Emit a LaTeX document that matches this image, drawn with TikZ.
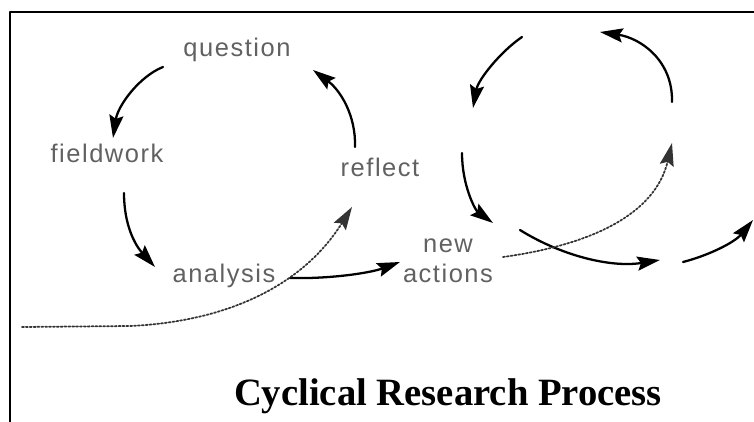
\documentclass[tikz,border=0pt]{standalone}
\usepackage{fontspec}
\usetikzlibrary{arrows.meta}
\newfontfamily\lblfont[LetterSpace=6]{Liberation Sans}
\newfontfamily\ttlfont{Liberation Serif}

\begin{document}
\begin{tikzpicture}[x=0.02cm, y=-0.02cm, line cap=round, line join=round,
    arr/.style={-{Stealth[length=13pt, width=8pt, inset=2pt]}, line width=1.3pt},
    dots/.style={arr, line width=1pt, black!80, dash pattern=on 1.1pt off 1.1pt},
    lbl/.style={anchor=base, inner sep=0pt, text=black!62,
                font=\lblfont\fontsize{14.5pt}{17.6pt}\selectfont},
    ttl/.style={anchor=base, inner sep=0pt,
                font=\ttlfont\bfseries\fontsize{22pt}{26pt}\selectfont}]
  \useasboundingbox (0,0) rectangle (754,422);

  % Frame (left and top edges only)
  \draw[line width=1.15pt, line cap=butt] (10,422) -- (10,12) -- (754,12);

  % Labels of the first cycle
  \node[lbl] (question)  at (237,57)  {question};
  \node[lbl] (fieldwork) at (107,163) {fieldwork};
  \node[lbl] (reflect)   at (380,177) {reflect};
  \node[lbl] (analysis)  at (224,283) {analysis};
  \node[lbl, align=center] (newact) at (448,283) {new\\actions};

  % Arrow ends
  \coordinate (qf1) at (163,67);   \coordinate (qf2) at (113,138);
  \coordinate (fa1) at (124,193);  \coordinate (fa2) at (155,267);
  \coordinate (rq1) at (355,147);  \coordinate (rq2) at (313,70);
  \coordinate (an1) at (290,278);  \coordinate (an2) at (400,262);
  \coordinate (sp0) at (22,327);   \coordinate (sp1) at (130,326);
  \coordinate (sp2) at (352,207);

  % First cycle
  \draw[arr] (qf1) .. controls (140,76) and (118,105) .. (qf2);
  \draw[arr] (fa1) .. controls (124,225) and (135,245) .. (fa2);
  \draw[arr] (rq1) .. controls (356,115) and (340,90) .. (rq2);
  \draw[arr] (an1) .. controls (330,279) and (370,273) .. (an2);

  % Dotted spiral into reflect
  \draw[dots] (sp0) -- (sp1) .. controls (220,322) and (300,290) .. (sp2);

  % Second cycle (no labels)
  \coordinate (c1) at (522,37);   \coordinate (c2) at (473,108);
  \coordinate (c3) at (672,102);  \coordinate (c4) at (600,32);
  \coordinate (c5) at (462,153);  \coordinate (c6) at (493,223);
  \coordinate (c7) at (520,230);  \coordinate (c8) at (660,260);
  \coordinate (c9) at (683,262);  \coordinate (c10) at (753,220);
  \coordinate (d1) at (503,257);  \coordinate (d2) at (672,143);

  \draw[arr] (c1) .. controls (500,52) and (478,80) .. (c2);
  \draw[arr] (c3) .. controls (673,60) and (640,38) .. (c4);
  \draw[arr] (c5) .. controls (462,185) and (475,210) .. (c6);
  \draw[arr] (c7) .. controls (560,255) and (610,268) .. (c8);
  \draw[arr] (c9) .. controls (710,255) and (735,242) .. (c10);
  \draw[dots] (d1) .. controls (590,245) and (655,215) .. (d2);

  % Title
  \node[ttl] (title) at (448,405) {Cyclical Research Process};
\end{tikzpicture}
\end{document}
